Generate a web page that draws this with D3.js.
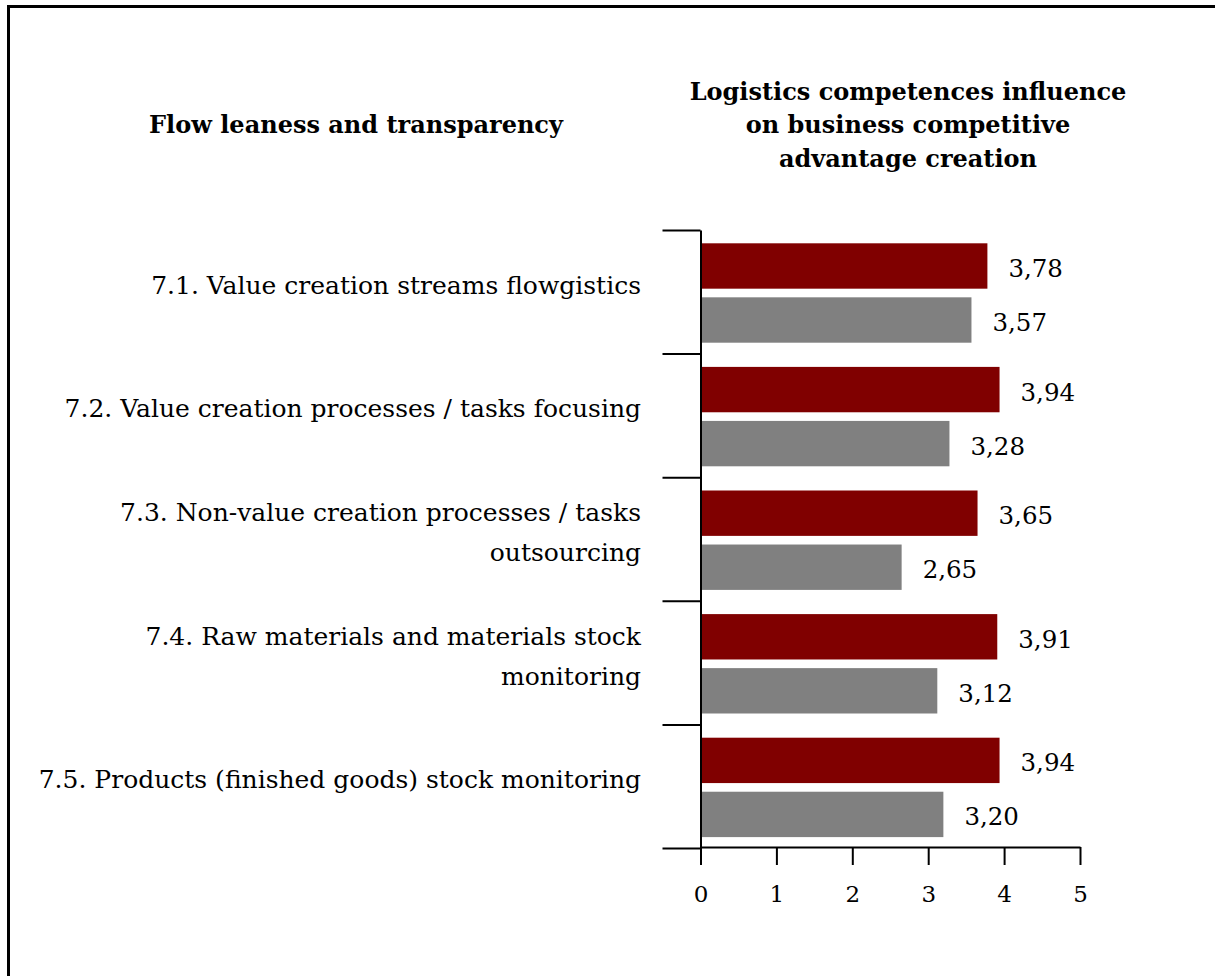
<!DOCTYPE html>
<html>
<head>
<meta charset="utf-8">
<script src="https://cdn.jsdelivr.net/npm/d3@7/dist/d3.min.js"></script>
<style>
html, body { margin: 0; padding: 0; background: #fff; }
svg { display: block; }
text { font-family: "DejaVu Serif", serif; fill: #000; }
</style>
</head>
<body>
<svg id="chart" width="1215" height="976"></svg>
<script>
const categories = [
  "7.1. Value creation streams flowgistics",
  "7.2. Value creation processes / tasks focusing",
  "7.3. Non-value creation processes / tasks outsourcing",
  "7.4. Raw materials and materials stock monitoring",
  "7.5. Products (finished goods) stock monitoring"
];
const categoryLines = [
  ["7.1. Value creation streams flowgistics"],
  ["7.2. Value creation processes / tasks focusing"],
  ["7.3. Non-value creation processes / tasks", "outsourcing"],
  ["7.4. Raw materials and materials stock", "monitoring"],
  ["7.5. Products (finished goods) stock monitoring"]
];
const seriesNames = ["Series A", "Series B"];
const seriesA = [3.78, 3.94, 3.65, 3.91, 3.94];
const seriesB = [3.57, 3.28, 2.65, 3.12, 3.20];
const xTicks = [0, 1, 2, 3, 4, 5];
const leftTitle = "Flow leaness and transparency";
const rightTitle = ["Logistics competences influence", "on business competitive", "advantage creation"];
const colors = ["#800000", "#808080"];

const svg = d3.select("#chart");

// frame
svg.append("rect")
  .attr("x", 8.5).attr("y", 6.5)
  .attr("width", 1400).attr("height", 1200)
  .attr("fill", "none").attr("stroke", "#000").attr("stroke-width", 3);

const plotTop = 230, plotBottom = 848, plotLeft = 700.5, plotRight = 1080;

const x = d3.scaleLinear().domain([0, 5]).range([plotLeft, plotRight]);
const y = d3.scaleBand().domain(categories).range([plotTop, plotBottom]).padding(0);
const inner = d3.scaleBand().domain(seriesNames).range([13.3, 112.7]).paddingInner(0.16);
const yBound = d3.scaleLinear().domain([0, categories.length]).range([plotTop, plotBottom]);

const values = [seriesA, seriesB];
const rows = [];
categories.forEach((c, i) => {
  seriesNames.forEach((s, j) => rows.push({ cat: c, series: s, value: values[j][i], color: colors[j] }));
});

const fmt = d3.formatLocale({ decimal: ",", thousands: ".", grouping: [3], currency: ["", ""] }).format(".2f");

// bars
svg.append("g").selectAll("rect")
  .data(rows).join("rect")
  .attr("x", x(0))
  .attr("y", d => y(d.cat) + inner(d.series))
  .attr("width", d => x(d.value) - x(0))
  .attr("height", inner.bandwidth())
  .attr("fill", d => d.color);

// value labels
svg.append("g").selectAll("text")
  .data(rows).join("text")
  .attr("x", d => x(d.value) + 21)
  .attr("y", d => y(d.cat) + inner(d.series) + inner.bandwidth() / 2)
  .attr("dy", "0.45em")
  .attr("font-size", 24.5)
  .text(d => fmt(d.value));

// left axis (category boundaries)
const yAxis = d3.axisLeft(yBound).ticks(categories.length).tickSize(38).tickSizeOuter(0).tickFormat("");
const gy = svg.append("g").attr("transform", `translate(${plotLeft},0)`).call(yAxis);
gy.selectAll("path, line").attr("stroke", "#000").attr("stroke-width", 2);

// bottom axis
const xAxis = d3.axisBottom(x).tickValues(xTicks).tickSize(18).tickSizeOuter(0).tickPadding(21).tickFormat(d3.format("d"));
const gx = svg.append("g").attr("transform", `translate(0,${plotBottom - 1})`).call(xAxis);
gx.selectAll("path, line").attr("stroke", "#000").attr("stroke-width", 2);
gx.selectAll("text").attr("font-size", 23).attr("font-family", "DejaVu Serif").attr("fill", "#000");

// category labels
const lab = svg.append("g").selectAll("text")
  .data(categories).join("text")
  .attr("text-anchor", "end")
  .attr("font-size", 25);
lab.each(function(c, i) {
  const lines = categoryLines[i];
  const cy = y(c) + y.bandwidth() / 2 + 2;
  d3.select(this).selectAll("tspan").data(lines).join("tspan")
    .attr("x", 641)
    .attr("y", (l, k) => cy + (k - (lines.length - 1) / 2) * 40)
    .text(l => l);
});

// titles
svg.append("text")
  .attr("x", 356).attr("y", 133)
  .attr("text-anchor", "middle")
  .attr("font-weight", "bold").attr("font-size", 24)
  .text(leftTitle);

svg.append("text")
  .attr("text-anchor", "middle")
  .attr("font-weight", "bold").attr("font-size", 24)
  .selectAll("tspan").data(rightTitle).join("tspan")
  .attr("x", 908)
  .attr("y", (d, i) => 100 + i * 33.3)
  .text(d => d);
</script>
</body>
</html>
